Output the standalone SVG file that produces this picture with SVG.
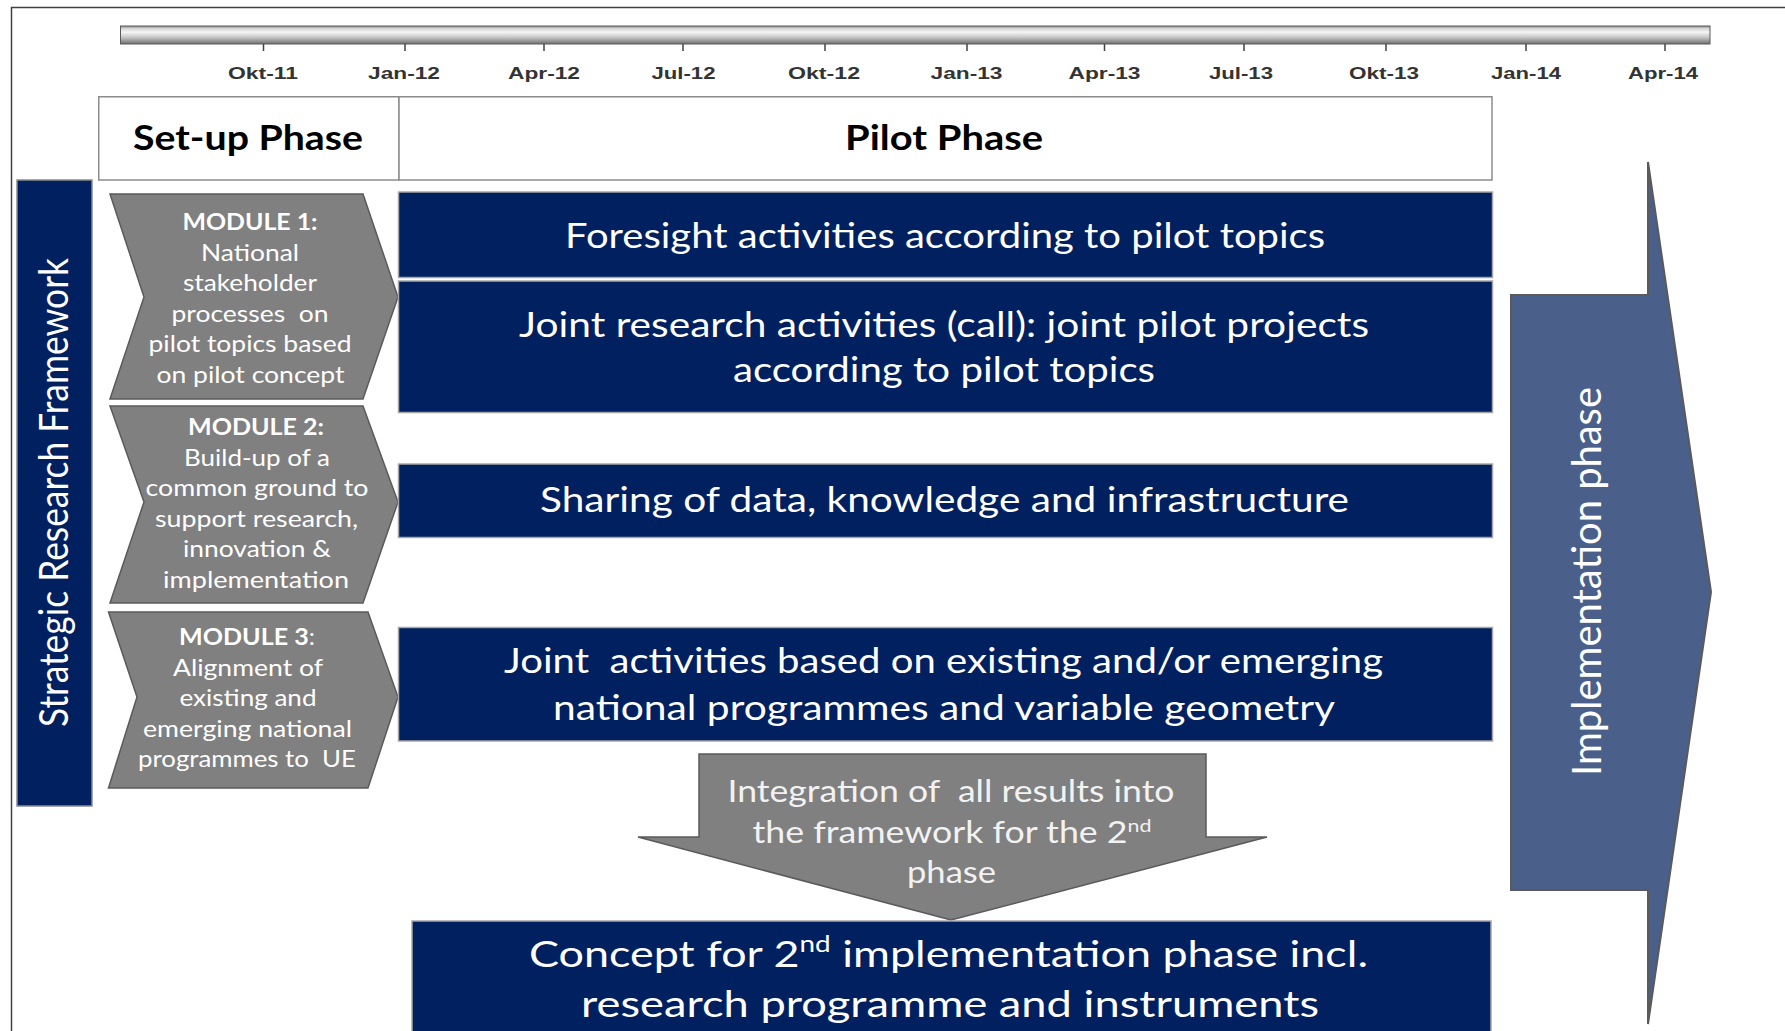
<svg xmlns="http://www.w3.org/2000/svg" width="1785" height="1031" viewBox="0 0 1785 1031">
<defs>
  <linearGradient id="barGrad" x1="0" y1="0" x2="0" y2="1">
    <stop offset="0" stop-color="#8c8c8c"/>
    <stop offset="0.15" stop-color="#d9d9d9"/>
    <stop offset="0.35" stop-color="#f4f4f4"/>
    <stop offset="0.65" stop-color="#c2c2c2"/>
    <stop offset="1" stop-color="#6e6e6e"/>
  </linearGradient>
</defs>
<style>
  .tl { font-family: "Liberation Sans", Arial, sans-serif; font-size: 16px; font-weight: bold; fill: #333333; text-anchor: middle; }
  .tick { stroke: #404040; stroke-width: 1.5; }
  .hdbox { fill: #ffffff; stroke: #8c8c8c; stroke-width: 1.5; }
  .hd { font-family: Lato, "Open Sans", sans-serif; font-weight: bold; font-size: 34px; fill: #000000; text-anchor: middle; }
  .navy { fill: #002060; stroke: #a6a6a6; stroke-width: 1.5; }
  .chev { fill: #808080; stroke: #5a5a5a; stroke-width: 1.5; }
  .mod { font-family: Lato, "Open Sans", sans-serif; font-size: 23px; fill: #ffffff; text-anchor: middle; }
  .modb { font-weight: bold; }
  .bx { font-family: Lato, "Open Sans", sans-serif; font-size: 35px; fill: #ffffff; text-anchor: middle; }
  .cx { font-family: Lato, "Open Sans", sans-serif; font-size: 37px; fill: #ffffff; text-anchor: middle; }
  .ix { font-family: Lato, "Open Sans", sans-serif; font-size: 30px; fill: #f2f2f2; text-anchor: middle; }
  .vt { font-family: Lato, "Open Sans", sans-serif; font-size: 40px; fill: #ffffff; text-anchor: middle; }
</style>

<rect width="1785" height="1031" fill="#ffffff"/>
<path d="M11.5,1031 V7.5 H1785" fill="none" stroke="#404040" stroke-width="1.5"/>

<g id="timeline">
  <rect x="120.5" y="26" width="1589.5" height="18" fill="url(#barGrad)" stroke="#5a5a5a" stroke-width="1"/>
  <line class="tick" x1="263.5" y1="44" x2="263.5" y2="51"/>
  <line class="tick" x1="405" y1="44" x2="405" y2="51"/>
  <line class="tick" x1="544" y1="44" x2="544" y2="51"/>
  <line class="tick" x1="683" y1="44" x2="683" y2="51"/>
  <line class="tick" x1="825" y1="44" x2="825" y2="51"/>
  <line class="tick" x1="967" y1="44" x2="967" y2="51"/>
  <line class="tick" x1="1104.5" y1="44" x2="1104.5" y2="51"/>
  <line class="tick" x1="1244" y1="44" x2="1244" y2="51"/>
  <line class="tick" x1="1386" y1="44" x2="1386" y2="51"/>
  <line class="tick" x1="1526" y1="44" x2="1526" y2="51"/>
  <line class="tick" x1="1665" y1="44" x2="1665" y2="51"/>
  <text class="tl" x="263" y="78.5" textLength="70" lengthAdjust="spacingAndGlyphs">Okt-11</text>
  <text class="tl" x="404" y="78.5" textLength="72" lengthAdjust="spacingAndGlyphs">Jan-12</text>
  <text class="tl" x="544" y="78.5" textLength="72" lengthAdjust="spacingAndGlyphs">Apr-12</text>
  <text class="tl" x="683.5" y="78.5" textLength="64" lengthAdjust="spacingAndGlyphs">Jul-12</text>
  <text class="tl" x="824" y="78.5" textLength="72" lengthAdjust="spacingAndGlyphs">Okt-12</text>
  <text class="tl" x="966.5" y="78.5" textLength="72" lengthAdjust="spacingAndGlyphs">Jan-13</text>
  <text class="tl" x="1104.5" y="78.5" textLength="72" lengthAdjust="spacingAndGlyphs">Apr-13</text>
  <text class="tl" x="1241" y="78.5" textLength="64" lengthAdjust="spacingAndGlyphs">Jul-13</text>
  <text class="tl" x="1384" y="78.5" textLength="70" lengthAdjust="spacingAndGlyphs">Okt-13</text>
  <text class="tl" x="1526" y="78.5" textLength="70" lengthAdjust="spacingAndGlyphs">Jan-14</text>
  <text class="tl" x="1663" y="78.5" textLength="70" lengthAdjust="spacingAndGlyphs">Apr-14</text>
</g>

<g id="setup-phase">
  <rect class="hdbox" x="98.75" y="96.75" width="300.25" height="83.25"/>
  <text class="hd" x="248" y="150" textLength="230" lengthAdjust="spacingAndGlyphs">Set-up Phase</text>
</g>
<g id="pilot-phase">
  <rect class="hdbox" x="399" y="96.75" width="1093" height="83.25"/>
  <text class="hd" x="944" y="150" textLength="198" lengthAdjust="spacingAndGlyphs">Pilot Phase</text>
</g>

<g id="strategic-research-framework">
  <rect x="17" y="180" width="75" height="626" fill="#002060" stroke="#8c8c8c" stroke-width="1.5"/>
  <text class="vt" transform="translate(68,492.5) rotate(-90)" x="0" y="0" textLength="469" lengthAdjust="spacingAndGlyphs">Strategic Research Framework</text>
</g>

<g id="module-1">
  <polygon class="chev" points="110,194 363,194 398,297 363,399 110,399 144,297"/>
  <text class="mod modb" x="250" y="230" textLength="135" lengthAdjust="spacingAndGlyphs">MODULE 1:</text>
  <text class="mod" x="250" y="260.5" textLength="98" lengthAdjust="spacingAndGlyphs">National</text>
  <text class="mod" x="250" y="291" textLength="134" lengthAdjust="spacingAndGlyphs">stakeholder</text>
  <text class="mod" x="250" y="321.5" textLength="157" lengthAdjust="spacingAndGlyphs" xml:space="preserve">processes  on</text>
  <text class="mod" x="250" y="352" textLength="203" lengthAdjust="spacingAndGlyphs">pilot topics based</text>
  <text class="mod" x="250.5" y="382.5" textLength="188" lengthAdjust="spacingAndGlyphs">on pilot concept</text>
</g>

<g id="module-2">
  <polygon class="chev" points="110,406 363,406 398,502 363,603 110,603 144,502"/>
  <text class="mod modb" x="256" y="435" textLength="136" lengthAdjust="spacingAndGlyphs">MODULE 2:</text>
  <text class="mod" x="257" y="465.5" textLength="146" lengthAdjust="spacingAndGlyphs">Build-up of a</text>
  <text class="mod" x="257" y="496" textLength="223" lengthAdjust="spacingAndGlyphs">common ground to</text>
  <text class="mod" x="256.5" y="526.5" textLength="203" lengthAdjust="spacingAndGlyphs">support research,</text>
  <text class="mod" x="257" y="557" textLength="148" lengthAdjust="spacingAndGlyphs">innovation &amp;</text>
  <text class="mod" x="256" y="587.5" textLength="186" lengthAdjust="spacingAndGlyphs">implementation</text>
</g>

<g id="module-3">
  <polygon class="chev" points="108.5,612 368,612 398,697 368,788 108.5,788 137,697"/>
  <text class="mod" x="247" y="645" textLength="136" lengthAdjust="spacingAndGlyphs"><tspan class="modb">MODULE 3</tspan>:</text>
  <text class="mod" x="248" y="675.5" textLength="150" lengthAdjust="spacingAndGlyphs">Alignment of</text>
  <text class="mod" x="248" y="706" textLength="137" lengthAdjust="spacingAndGlyphs">existing and</text>
  <text class="mod" x="247.5" y="736.5" textLength="209" lengthAdjust="spacingAndGlyphs">emerging national</text>
  <text class="mod" x="247" y="767" textLength="218" lengthAdjust="spacingAndGlyphs" xml:space="preserve">programmes to  UE</text>
</g>

<g id="foresight">
  <rect class="navy" x="398.5" y="192" width="1094" height="85.5"/>
  <text class="bx" x="945" y="248" textLength="760" lengthAdjust="spacingAndGlyphs">Foresight activities according to pilot topics</text>
</g>

<g id="joint-research">
  <rect class="navy" x="398.5" y="281" width="1094" height="131.5"/>
  <text class="bx" x="944" y="337" textLength="850" lengthAdjust="spacingAndGlyphs">Joint research activities (call): joint pilot projects</text>
  <text class="bx" x="944" y="382" textLength="422" lengthAdjust="spacingAndGlyphs">according to pilot topics</text>
</g>

<g id="sharing">
  <rect class="navy" x="398.5" y="464" width="1094" height="73.5"/>
  <text class="bx" x="944.5" y="511.5" textLength="809" lengthAdjust="spacingAndGlyphs">Sharing of data, knowledge and infrastructure</text>
</g>

<g id="joint-activities">
  <rect class="navy" x="398.5" y="627.5" width="1094" height="113.5"/>
  <text class="bx" x="943.5" y="672.5" textLength="879" lengthAdjust="spacingAndGlyphs" xml:space="preserve">Joint  activities based on existing and/or emerging</text>
  <text class="bx" x="944" y="720" textLength="782" lengthAdjust="spacingAndGlyphs">national programmes and variable geometry</text>
</g>

<g id="integration">
  <polygon points="699,754 1206,754 1206,837 1267,837 951,920 638,837 699,837" fill="#808080" stroke="#5a5a5a" stroke-width="1.5"/>
  <text class="ix" x="951" y="801.5" textLength="447" lengthAdjust="spacingAndGlyphs" xml:space="preserve">Integration of  all results into</text>
  <text class="ix" x="952" y="842.5" textLength="399" lengthAdjust="spacingAndGlyphs">the framework for the 2<tspan dy="-11" font-size="18">nd</tspan></text>
  <text class="ix" x="951.5" y="883" textLength="89" lengthAdjust="spacingAndGlyphs">phase</text>
</g>

<g id="concept">
  <rect class="navy" x="412" y="921" width="1079" height="130"/>
  <text class="cx" x="948.5" y="966.5" textLength="839" lengthAdjust="spacingAndGlyphs">Concept for 2<tspan dy="-15" font-size="23">nd</tspan><tspan dy="15"> implementation phase incl.</tspan></text>
  <text class="cx" x="950" y="1017" textLength="738" lengthAdjust="spacingAndGlyphs">research programme and instruments</text>
</g>

<g id="implementation-phase">
  <polygon points="1511,295 1648,295 1648,162 1711,592 1648,1024 1648,890 1511,890" fill="#4a5f8a" stroke="#5a5a5a" stroke-width="2"/>
  <text class="vt" transform="translate(1601,581.5) rotate(-90)" x="0" y="0" textLength="389" lengthAdjust="spacingAndGlyphs">Implementation phase</text>
</g>

<g id="connectors"/>
</svg>
